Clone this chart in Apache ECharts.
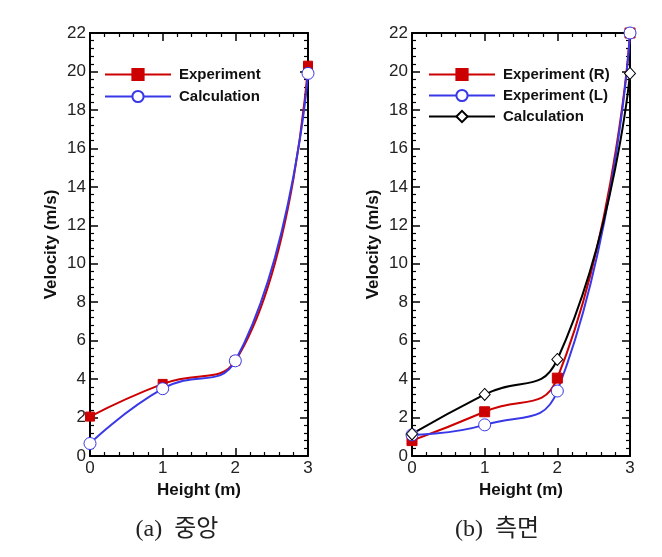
<!DOCTYPE html>
<html>
<head>
<meta charset="utf-8">
<script src="https://cdn.jsdelivr.net/npm/echarts@6/dist/echarts.min.js"></script>
<style>html,body{margin:0;padding:0;background:#fff;}#c{width:662px;height:557px;}</style>
</head>
<body>
<div id="c"></div>
<script>
// ---- data ----
var heights = [0, 1, 2, 3];
// (a) centre
var aExperiment = [2.05, 3.75, 4.95, 20.3];
var aCalculation = [0.65, 3.5, 4.95, 19.9];
// (b) side
var bExperimentR = [0.8, 2.3, 4.05, 22.0];
var bExperimentL = [1.1, 1.62, 3.38, 22.0];
var bCalculation = [1.15, 3.2, 5.02, 19.9];
var yTicks = [0, 22, 2];
var xTicks = [0, 3, 1];
var captions = ['(a)  중앙', '(b)  측면'];

function pairs(xs, ys) { return xs.map(function (x, i) { return [x, ys[i]]; }); }

var FONT = "'Liberation Sans', Arial, sans-serif";
var grids = [
  { left: 90, top: 33, width: 218, height: 423 },
  { left: 412, top: 33, width: 218, height: 423 }
];

function xAx(g, pos) {
  var main = pos === 'bottom';
  return {
    gridIndex: g, type: 'value', position: pos, min: xTicks[0], max: xTicks[1], interval: xTicks[2],
    axisLine: { show: true, onZero: false, lineStyle: { color: '#000', width: 2 } },
    axisTick: { show: true, inside: true, length: 8, lineStyle: { color: '#000', width: 1.5 } },
    minorTick: { show: true, splitNumber: 5, length: 4, lineStyle: { color: '#000', width: 1.2 } },
    splitLine: { show: false },
    axisLabel: { show: main, fontSize: 17, color: '#222', fontFamily: FONT, margin: 4 },
    name: main ? 'Height (m)' : '', nameLocation: 'middle', nameGap: 26,
    nameTextStyle: { fontSize: 17, fontWeight: 'bold', color: '#111', fontFamily: FONT }
  };
}
function yAx(g, pos) {
  var main = pos === 'left';
  return {
    gridIndex: g, type: 'value', position: pos, min: yTicks[0], max: yTicks[1], interval: yTicks[2],
    axisLine: { show: true, onZero: false, lineStyle: { color: '#000', width: 2 } },
    axisTick: { show: true, inside: true, length: 8, lineStyle: { color: '#000', width: 1.5 } },
    minorTick: { show: true, splitNumber: 5, length: 4, lineStyle: { color: '#000', width: 1.2 } },
    splitLine: { show: false },
    axisLabel: { show: main, fontSize: 17, color: '#222', fontFamily: FONT, margin: 4 },
    name: main ? 'Velocity (m/s)' : '', nameLocation: 'middle', nameGap: 30,
    nameTextStyle: { fontSize: 17, fontWeight: 'bold', color: '#111', fontFamily: FONT }
  };
}

var RED = '#CC0000', BLUE = '#3838E8', BLACK = '#000';
function ser(name, g, ys, color, symbol, size, fill) {
  return {
    name: name, type: 'line', xAxisIndex: g * 2, yAxisIndex: g * 2,
    data: pairs(heights, ys), smooth: 0.5, clip: false,
    symbol: symbol, symbolSize: size, showAllSymbol: true,
    lineStyle: { color: color, width: 2 },
    itemStyle: { color: fill, borderColor: color, borderWidth: 1 },
    emphasis: { disabled: true }, animation: false
  };
}

var CAP = { fontSize: 24, fontWeight: 'normal', color: '#222', fontFamily: "'Liberation Serif', 'Noto Sans CJK KR', serif" };

var chart = echarts.init(document.getElementById('c'), null, { renderer: 'canvas' });
chart.setOption({
  backgroundColor: '#fff',
  animation: false,
  grid: grids,
  xAxis: [xAx(0, 'bottom'), xAx(0, 'top'), xAx(1, 'bottom'), xAx(1, 'top')],
  yAxis: [yAx(0, 'left'), yAx(0, 'right'), yAx(1, 'left'), yAx(1, 'right')],
  legend: [
    { data: ['Experiment', 'Calculation'], left: 104, top: 67, orient: 'vertical', itemWidth: 66, itemHeight: 14, itemGap: 7, padding: 0,
      textStyle: { fontSize: 15, fontWeight: 'bold', color: '#111', fontFamily: FONT, padding: [0, 0, 0, 3] } },
    { data: ['Experiment (R)', 'Experiment (L)', 'Calculation (b)'], left: 428, top: 67, orient: 'vertical', itemWidth: 66, itemHeight: 14, itemGap: 6, padding: 0,
      formatter: function (n) { return n === 'Calculation (b)' ? 'Calculation' : n; },
      textStyle: { fontSize: 15, fontWeight: 'bold', color: '#111', fontFamily: FONT, padding: [0, 0, 0, 3] } }
  ],
  title: [
    { text: captions[0], left: 177, top: 518, textAlign: 'center', padding: 0, textStyle: CAP },
    { text: captions[1], left: 497, top: 518, textAlign: 'center', padding: 0, textStyle: CAP }
  ],
  series: [
    ser('Experiment', 0, aExperiment, RED, 'rect', 9, RED),
    ser('Calculation', 0, aCalculation, BLUE, 'circle', 12, '#fff'),
    ser('Experiment (R)', 1, bExperimentR, RED, 'rect', 10, RED),
    ser('Experiment (L)', 1, bExperimentL, BLUE, 'circle', 12, '#fff'),
    ser('Calculation (b)', 1, bCalculation, BLACK, 'diamond', [11, 12], '#fff')
  ]
});
</script>
</body>
</html>
